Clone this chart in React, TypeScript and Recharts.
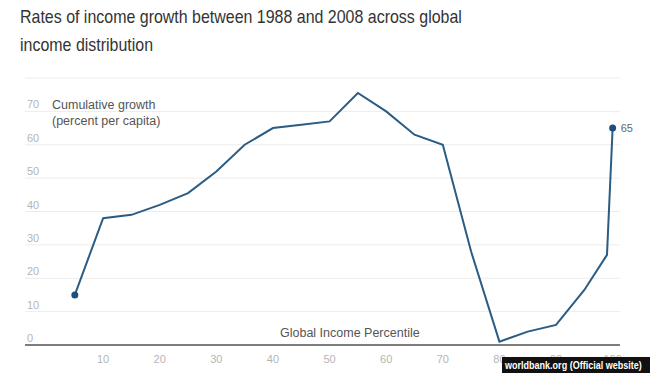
import { LineChart, Line, XAxis, YAxis, CartesianGrid, LabelList } from "recharts";

const percentiles = [5, 10, 15, 20, 25, 30, 35, 40, 45, 50, 55, 60, 65, 70, 75, 80, 85, 90, 95, 99, 100];
const growth = [15, 38, 39, 42, 45.5, 52, 60, 65, 66, 67, 75.5, 70, 63, 60, 28, 1, 4, 6, 16.5, 27, 65];
const xTicks = [10, 20, 30, 40, 50, 60, 70, 80, 90, 100];
const yTicks = [0, 10, 20, 30, 40, 50, 60, 70];

const data = percentiles.map((p, i) => ({ p, g: growth[i] }));

const FONT = "'Liberation Sans', Arial, Helvetica, sans-serif";
const LINE = "#2b5c84";

const YTick = (props: any) => {
  const { y, payload } = props;
  return (
    <text x={27} y={y - 3} fill="#b5b5b5" fontSize={11} fontFamily={FONT}>
      {payload.value}
    </text>
  );
};

const EndDot = ({ cx, cy, index }: any) => {
  if (index !== 0 && index !== data.length - 1) return null;
  return <circle key={index} cx={cx} cy={cy} r={3.5} fill="#1d4f7c" />;
};

const EndLabel = ({ x, y, value, index }: any) => {
  if (index !== data.length - 1) return null;
  return (
    <text x={x + 8} y={y + 4} fill="#666" fontSize={11} fontFamily={FONT}>
      {value}
    </text>
  );
};

export default function App() {
  return (
    <div style={{ position: "relative", width: 650, height: 373, background: "#fff", fontFamily: FONT, overflow: "hidden" }}>
      <style>{`body{margin:0}`}</style>
      <div style={{ position: "absolute", left: 20, top: 3, fontSize: 19, lineHeight: "28px", color: "#333", transform: "scaleX(0.84)", transformOrigin: "left top", whiteSpace: "nowrap" }}>
        Rates of income growth between 1988 and 2008 across global
        <br />
        income distribution
      </div>
      <LineChart width={650} height={373} data={data} margin={{ top: 78, right: 30, left: 24, bottom: 8 }}>
        <CartesianGrid vertical={false} stroke="#ececec" />
        <XAxis
          dataKey="p"
          type="number"
          domain={[-3.8, 101.3]}
          ticks={xTicks}
          height={20}
          tickLine={false}
          axisLine={{ stroke: "#555", strokeWidth: 1.5 }}
          tick={{ fill: "#b5b5b5", fontSize: 11, fontFamily: FONT }}
          tickMargin={4}
        />
        <YAxis
          type="number"
          domain={[0, 80]}
          ticks={yTicks}
          width={1}
          axisLine={false}
          tickLine={false}
          tick={YTick}
        />
        <Line
          dataKey="g"
          stroke={LINE}
          strokeWidth={2}
          dot={<EndDot />}
          activeDot={false}
          isAnimationActive={false}
        >
          <LabelList dataKey="g" content={<EndLabel />} />
        </Line>
      </LineChart>
      <div style={{ position: "absolute", left: 52, top: 97, fontSize: 12.5, lineHeight: "16px", color: "#555" }}>
        Cumulative growth
        <br />
        (percent per capita)
      </div>
      <div style={{ position: "absolute", left: 280, top: 326, fontSize: 12.5, color: "#555", whiteSpace: "nowrap" }}>
        Global Income Percentile
      </div>
      <div style={{ position: "absolute", left: 502, top: 357, width: 148, height: 16, background: "#111", overflow: "hidden" }}>
        <div style={{ color: "#fff", fontSize: 11, fontWeight: "bold", lineHeight: "16px", whiteSpace: "nowrap", marginLeft: 3, transform: "scaleX(0.82)", transformOrigin: "left top" }}>
          worldbank.org (Official website)
        </div>
      </div>
    </div>
  );
}
